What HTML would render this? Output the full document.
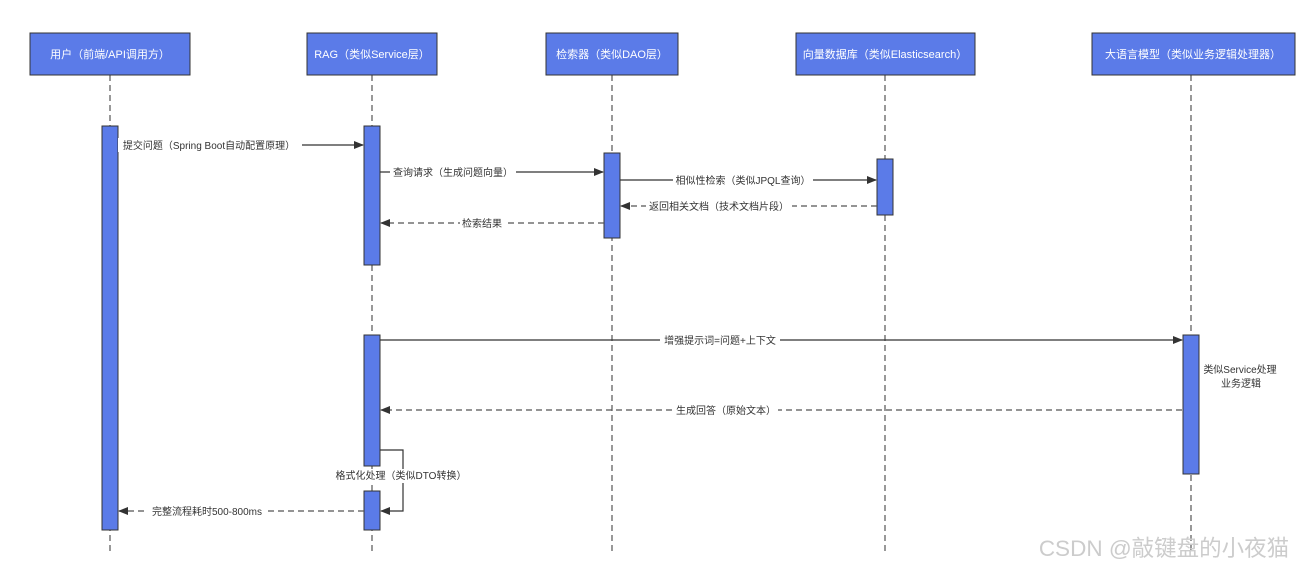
<!DOCTYPE html>
<html><head><meta charset="utf-8"><style>
html,body{margin:0;padding:0;background:#fff;}
svg{display:block;}
text{font-family:"Liberation Sans","Noto Sans CJK SC",sans-serif;}
</style></head><body>
<svg width="1305" height="571" viewBox="0 0 1305 571" xmlns="http://www.w3.org/2000/svg">
<defs>
<marker id="a" markerWidth="10" markerHeight="8" refX="9" refY="4" orient="auto" markerUnits="userSpaceOnUse">
<path d="M0,0 L10,4 L0,8 Z" fill="#333"/></marker>
</defs>
<g stroke="#555" stroke-width="1.2" stroke-dasharray="6,4" fill="none">
<line x1="110" y1="75" x2="110" y2="555"/>
<line x1="372" y1="75" x2="372" y2="555"/>
<line x1="612" y1="75" x2="612" y2="555"/>
<line x1="885" y1="75" x2="885" y2="555"/>
<line x1="1191" y1="75" x2="1191" y2="555"/>
</g>
<g fill="#5b7be8" stroke="#333" stroke-width="1">
<rect x="30" y="33" width="160" height="42"/>
<rect x="307" y="33" width="130" height="42"/>
<rect x="546" y="33" width="132" height="42"/>
<rect x="796" y="33" width="179" height="42"/>
<rect x="1092" y="33" width="203" height="42"/>
</g>
<g fill="#fff" font-size="11" text-anchor="middle">
<text x="110" y="58">用户（前端/API调用方）</text>
<text x="372" y="58">RAG（类似Service层）</text>
<text x="612" y="58">检索器（类似DAO层）</text>
<text x="885" y="58">向量数据库（类似Elasticsearch）</text>
<text x="1193" y="58">大语言模型（类似业务逻辑处理器）</text>
</g>
<g fill="#5b7be8" stroke="#333" stroke-width="1">
<rect x="102" y="126" width="16" height="404"/>
<rect x="364" y="126" width="16" height="139"/>
<rect x="604" y="153" width="16" height="85"/>
<rect x="877" y="159" width="16" height="56"/>
<rect x="364" y="335" width="16" height="131"/>
<rect x="364" y="491" width="16" height="39"/>
<rect x="1183" y="335" width="16" height="139"/>
</g>
<g stroke="#333" stroke-width="1.2" fill="none">
<line x1="118" y1="145" x2="363" y2="145" marker-end="url(#a)"/>
<line x1="380" y1="172" x2="603" y2="172" marker-end="url(#a)"/>
<line x1="620" y1="180" x2="876" y2="180" marker-end="url(#a)"/>
<line x1="380" y1="340" x2="1182" y2="340" marker-end="url(#a)"/>
<polyline points="380,450 403,450 403,511 381,511" marker-end="url(#a)"/>
</g>
<g stroke="#555" stroke-width="1.2" fill="none" stroke-dasharray="6,4">
<line x1="877" y1="206" x2="621" y2="206" marker-end="url(#a)"/>
<line x1="604" y1="223" x2="381" y2="223" marker-end="url(#a)"/>
<line x1="1182" y1="410" x2="381" y2="410" marker-end="url(#a)"/>
<line x1="364" y1="511" x2="119" y2="511" marker-end="url(#a)"/>
</g>
<g font-size="10" fill="#333" text-anchor="middle">
<rect x="118" y="138" width="184" height="14" fill="#fff"/>
<text x="209" y="149">提交问题（Spring Boot自动配置原理）</text>
<rect x="390" y="165" width="126" height="14" fill="#fff"/>
<text x="453" y="176">查询请求（生成问题向量）</text>
<rect x="673" y="173" width="140" height="14" fill="#fff"/>
<text x="743" y="184">相似性检索（类似JPQL查询）</text>
<rect x="646" y="199" width="146" height="14" fill="#fff"/>
<text x="719" y="210">返回相关文档（技术文档片段）</text>
<rect x="460" y="216" width="44" height="14" fill="#fff"/>
<text x="482" y="227">检索结果</text>
<rect x="660" y="333" width="120" height="14" fill="#fff"/>
<text x="720" y="344">增强提示词=问题+上下文</text>
<rect x="674" y="403" width="104" height="14" fill="#fff"/>
<text x="726" y="414">生成回答（原始文本）</text>
<rect x="334" y="469" width="134" height="14" fill="#fff"/>
<text x="401" y="479">格式化处理（类似DTO转换）</text>
<rect x="146" y="504" width="122" height="14" fill="#fff"/>
<text x="207" y="515">完整流程耗时500-800ms</text>
<text x="1240" y="373">类似Service处理</text>
<text x="1241" y="387">业务逻辑</text>
</g>
<text x="1164" y="556" font-size="22.5" fill="#ccc" text-anchor="middle">CSDN @敲键盘的小夜猫</text>
</svg>
</body></html>
